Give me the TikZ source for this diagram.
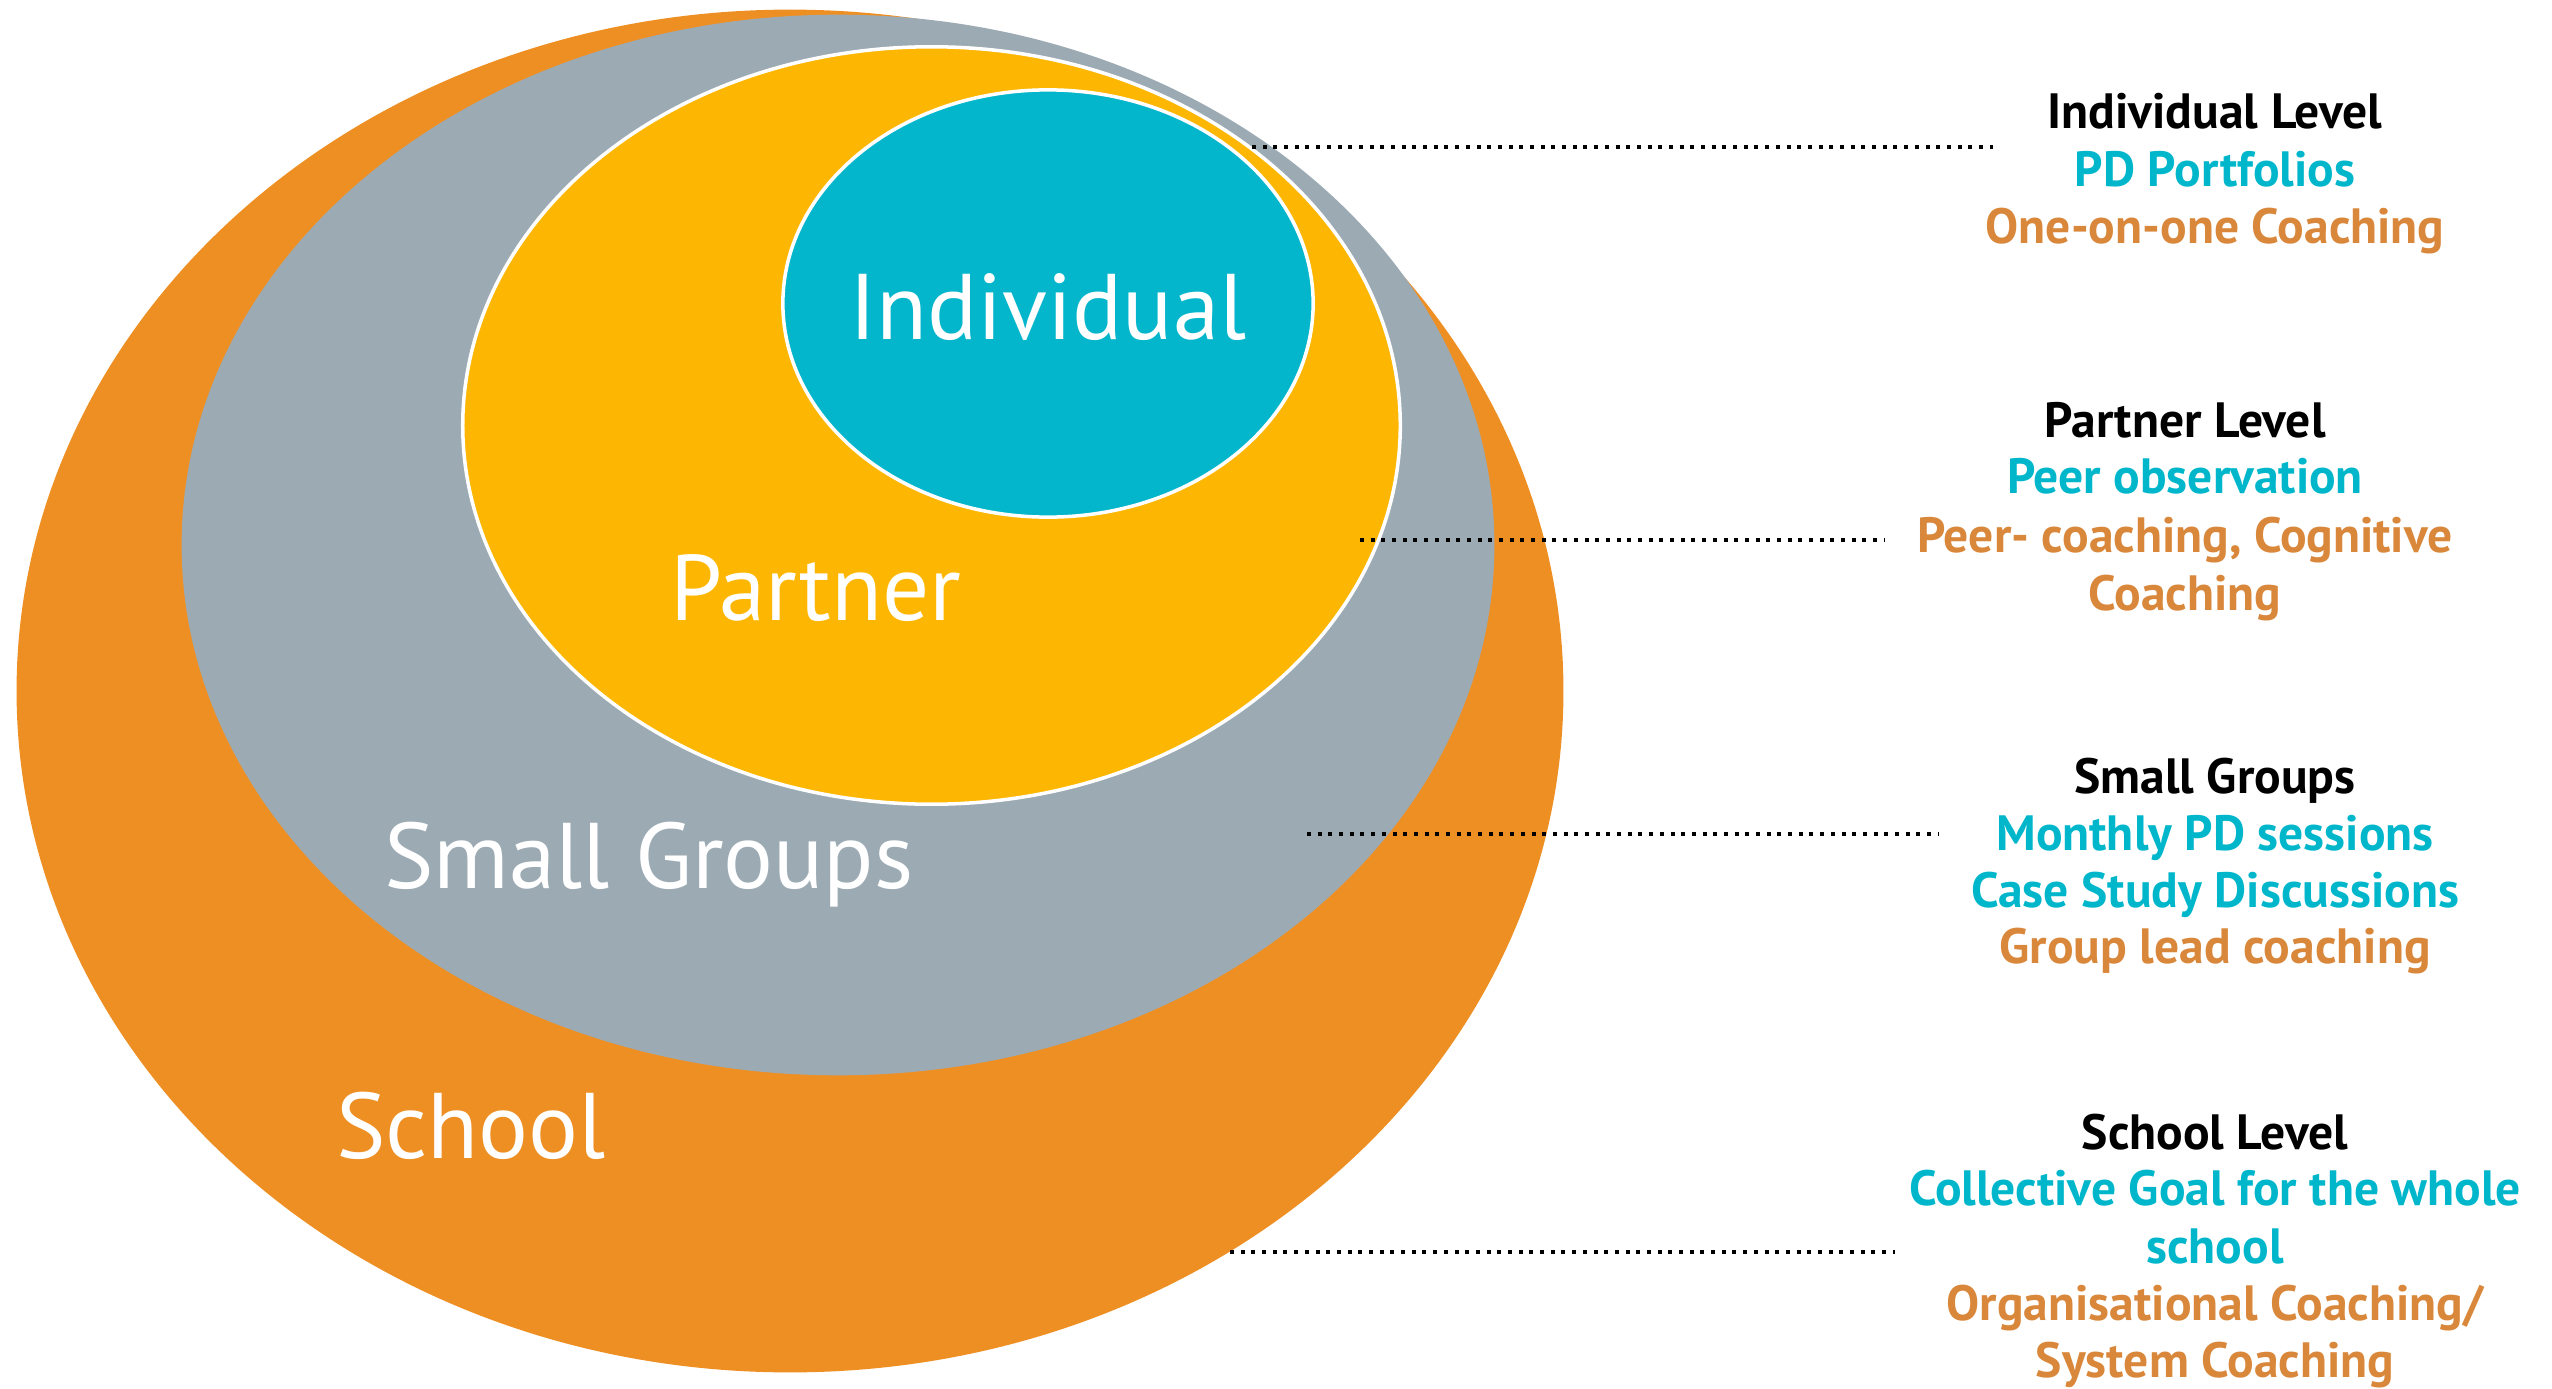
\documentclass[tikz,border=0pt]{standalone}
\usepackage{fontspec}
\setmainfont{PT Sans}
\usetikzlibrary{shapes.geometric}
\definecolor{schoolorange}{HTML}{EE8F23}
\definecolor{groupgrey}{HTML}{9CAAB4}
\definecolor{partneryellow}{HTML}{FDB702}
\definecolor{indivcyan}{HTML}{04B6CB}
\definecolor{txtcyan}{HTML}{00B6CB}
\definecolor{txtorange}{HTML}{D9873A}
\begin{document}
\begin{tikzpicture}[x=0.01cm,y=-0.01cm,
  ring/.style={ellipse, inner sep=0pt, outer sep=0pt},
  whitering/.style={ring, draw=white, line width=1pt},
  ringlabel/.style={text=white, font=\fontsize{26.5}{30}\selectfont, anchor=base, inner sep=0pt},
  sidetext/.style={font=\bfseries\fontsize{14.1}{17}\selectfont, anchor=base, inner sep=0pt},
  headline/.style={sidetext, text=black},
  methodA/.style={sidetext, text=txtcyan},
  methodB/.style={sidetext, text=txtorange},
  leader/.style={draw=black, line width=1.14pt, dash pattern=on 1.14pt off 1.9pt}
]
\useasboundingbox (0,0) rectangle (2552,1388);

% nested levels
\node[ring, fill=schoolorange, minimum width=15.46cm, minimum height=13.62cm] (school) at (790,691) {};
\node[ring, fill=groupgrey, minimum width=13.12cm, minimum height=10.60cm] (groups) at (838,545) {};
\node[whitering, fill=partneryellow, minimum width=9.37cm, minimum height=7.57cm] (partner) at (931.5,425.5) {};
\node[whitering, fill=indivcyan, minimum width=5.30cm, minimum height=4.27cm] (indiv) at (1048,303.5) {};

% level names
\node[ringlabel] (lblindiv) at (1048,339) {Individual};
\node[ringlabel] (lblpartner) at (816,620) {Partner};
\node[ringlabel] (lblgroups) at (649,888) {Small Groups};
\node[ringlabel] (lblschool) at (471,1158) {School};

% individual level
\node[headline] (h1) at (2215,129) {Individual Level};
\node[methodA] (m1a) at (2215,186) {PD Portfolios};
\node[methodB] (m1b) at (2215,243) {One-on-one Coaching};

% partner level
\node[headline] (h2) at (2185,437) {Partner Level};
\node[methodA] (m2a) at (2185,493) {Peer observation};
\node[methodB] (m2b) at (2185,552) {Peer- coaching, Cognitive};
\node[methodB] (m2c) at (2185,610) {Coaching};

% small groups
\node[headline] (h3) at (2215,793) {Small Groups};
\node[methodA] (m3a) at (2215,850) {Monthly PD sessions};
\node[methodA] (m3b) at (2215,907) {Case Study Discussions};
\node[methodB] (m3c) at (2215,963) {Group lead coaching};

% school level
\node[headline] (h4) at (2215,1149) {School Level};
\node[methodA] (m4a) at (2215,1205) {Collective Goal for the whole};
\node[methodA] (m4b) at (2215,1263) {school};
\node[methodB] (m4c) at (2215,1320) {Organisational Coaching/};
\node[methodB] (m4d) at (2215,1377) {System Coaching};

% dotted leaders
\coordinate (s1) at (1252,147);  \coordinate (e1) at (1993,147);
\coordinate (s2) at (1360,540);  \coordinate (e2) at (1885,540);
\coordinate (s3) at (1307,834);  \coordinate (e3) at (1939,834);
\coordinate (s4) at (1230,1252); \coordinate (e4) at (1895,1252);
\draw[leader] (s1) -- (e1);
\draw[leader] (s2) -- (e2);
\draw[leader] (s3) -- (e3);
\draw[leader] (s4) -- (e4);
\end{tikzpicture}
\end{document}
